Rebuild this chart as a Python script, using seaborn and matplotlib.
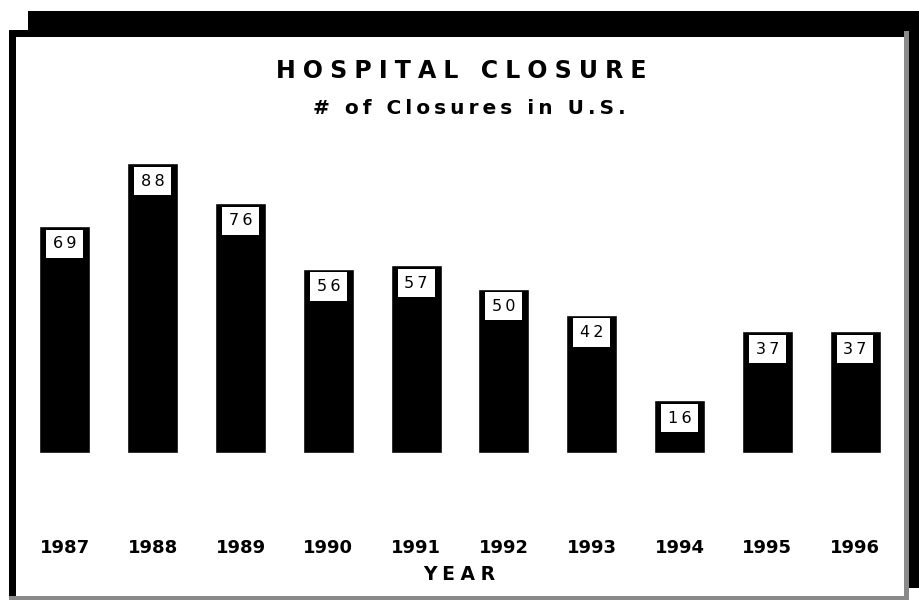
import matplotlib
matplotlib.use('Agg')
import matplotlib.pyplot as plt
from matplotlib.patches import Rectangle
import seaborn as sns
import pandas as pd

years = ['1987', '1988', '1989', '1990', '1991', '1992', '1993', '1994', '1995', '1996']
closures = [69, 88, 76, 56, 57, 50, 42, 16, 37, 37]

title = 'HOSPITAL CLOSURE'
subtitle = '# of Closures in U.S.'
xlabel = 'YEAR'

df = pd.DataFrame({'year': years, 'closures': closures})

sns.set_style('white')
plt.rcParams['font.family'] = ['DejaVu Sans']
plt.rcParams['text.color'] = 'black'
plt.rcParams['xtick.color'] = 'black'

W, H = 919, 600
fig = plt.figure(figsize=(W / 100, H / 100), dpi=100)
fig.patch.set_facecolor('white')


def spaced(s, n=1):
    # crude letter spacing with hair spaces
    return ('\u200a' * n).join(s)


def px_rect(x0, y0, x1, y1, color):
    # pixel box, measured from the top-left corner
    fig.add_artist(Rectangle((x0 / W, 1 - y1 / H), (x1 - x0) / W, (y1 - y0) / H,
                             transform=fig.transFigure, color=color, lw=0, zorder=0))


# frame with the drop shadow
px_rect(28, 11, 919, 37, 'black')
px_rect(9, 30, 919, 37, 'black')
px_rect(909, 11, 919, 588, 'black')
px_rect(9, 30, 16, 600, 'black')
px_rect(904, 31, 909, 600, '#8a8a8a')
px_rect(9, 596, 909, 600, '#8a8a8a')

ax = fig.add_axes([21 / W, (H - 453) / H, 878 / W, 329 / H])
sns.barplot(data=df, x='year', y='closures', color='black', saturation=1,
            width=0.58, ax=ax)
ax.set_xlim(-0.5, 9.5)
ax.set_ylim(0, 100)
ax.set_facecolor('none')
for s in ax.spines.values():
    s.set_visible(False)
ax.set_yticks([])
ax.set_ylabel('')
ax.set_xlabel('')
ax.tick_params(axis='x', length=0, pad=62)
ax.set_xticks(range(len(years)))
ax.set_xticklabels(years, fontsize=13, fontweight='heavy')

for i, v in enumerate(closures):
    ax.annotate(spaced(str(v), 2), xy=(i, v), xytext=(0, -12.8), textcoords='offset points',
                ha='center', va='center', fontsize=11.5, color='black',
                bbox=dict(boxstyle='square,pad=0.42', fc='white', ec='none'))

fig.text(461 / W, 1 - 71 / H, spaced(title, 3), ha='center', va='center',
         fontsize=17, fontweight='bold')
fig.text(469 / W, 1 - 109 / H, spaced(subtitle, 2), ha='center', va='center',
         fontsize=14.5, fontweight='bold')
fig.text(459 / W, 1 - 574 / H, spaced(xlabel, 3), ha='center', va='center',
         fontsize=13.5, fontweight='bold')

fig.savefig('out.png', dpi=100)
